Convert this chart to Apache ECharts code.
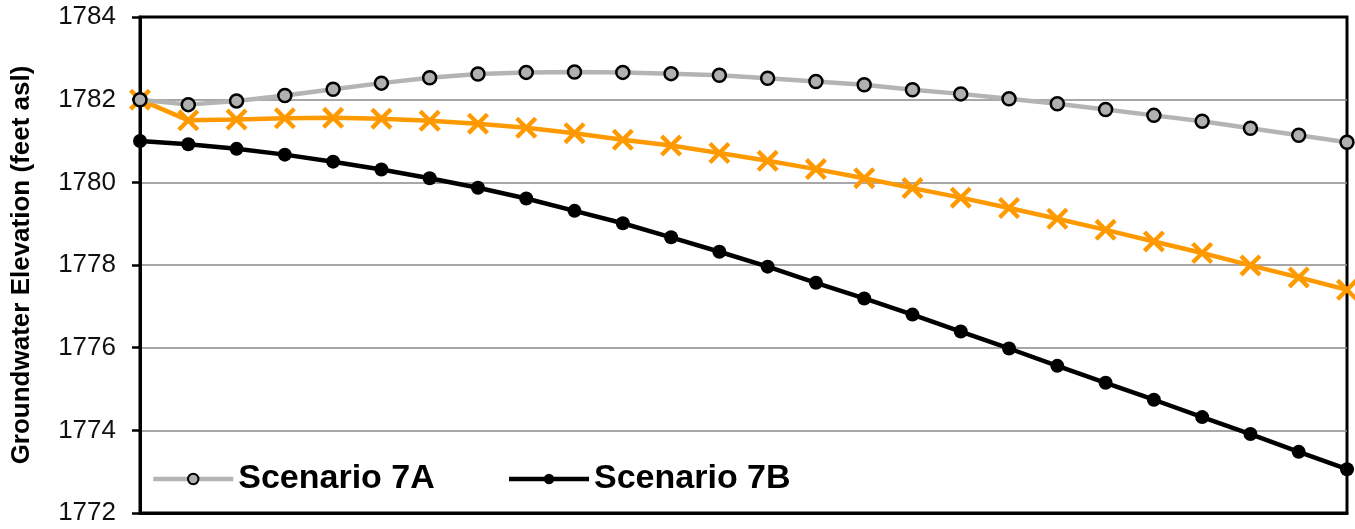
<!DOCTYPE html>
<html>
<head>
<meta charset="utf-8">
<title>Groundwater Elevation</title>
<script src="https://cdn.jsdelivr.net/npm/echarts@6/dist/echarts.min.js"></script>
<style>
  html, body { margin: 0; padding: 0; background: #fff; }
  #chart { width: 1355px; height: 529px; }
</style>
</head>
<body>
<div id="chart"></div>
<script>
// Time steps along the horizontal axis (labels are not shown)
const steps = Array.from({ length: 26 }, (_, i) => String(i));

// Groundwater elevation (feet asl) per scenario
const scenario7A = [1782.00, 1781.88, 1781.97, 1782.10, 1782.25, 1782.40, 1782.53, 1782.62, 1782.66,
  1782.67, 1782.66, 1782.63, 1782.59, 1782.52, 1782.44, 1782.36, 1782.24, 1782.14, 1782.02,
  1781.90, 1781.76, 1781.62, 1781.48, 1781.31, 1781.14, 1780.97];
const scenario7 = [1782.00, 1781.50, 1781.52, 1781.55, 1781.56, 1781.54, 1781.49, 1781.42, 1781.32,
  1781.19, 1781.03, 1780.89, 1780.71, 1780.52, 1780.32, 1780.10, 1779.86, 1779.63, 1779.38,
  1779.12, 1778.85, 1778.57, 1778.29, 1777.99, 1777.70, 1777.40];
const scenario7B = [1781.00, 1780.92, 1780.81, 1780.67, 1780.50, 1780.31, 1780.10, 1779.87, 1779.61,
  1779.31, 1779.01, 1778.67, 1778.32, 1777.96, 1777.57, 1777.19, 1776.80, 1776.39, 1775.98,
  1775.56, 1775.15, 1774.74, 1774.32, 1773.91, 1773.48, 1773.06];

const yMin = 1772, yMax = 1784, yStep = 2;

// X-shaped marker built from two diagonal bands
const crossSymbol = 'path://M0,14L14,0L100,86L86,100Z M86,0L100,14L14,100L0,86Z';

const FONT = "'Liberation Sans', Arial, sans-serif";

const chart = echarts.init(document.getElementById('chart'), null, { renderer: 'canvas' });
chart.setOption({
  animation: false,
  backgroundColor: '#fff',
  grid: {
    left: 140, right: 8, top: 17, bottom: 16,
    show: true, borderColor: '#000', borderWidth: 3, backgroundColor: 'transparent'
  },
  legend: {
    data: [
      { name: 'Scenario 7A', lineStyle: { width: 4.5, color: '#b4b4b4' },
        itemStyle: { color: '#b0b0b0', borderColor: '#000', borderWidth: 2 } },
      { name: 'Scenario 7B', lineStyle: { width: 4.5, color: '#000' },
        itemStyle: { color: '#000' } }
    ],
    left: 146, top: 457,
    itemWidth: 80, itemHeight: 13, itemGap: 72,
    textStyle: { fontFamily: FONT, fontSize: 34, fontWeight: 'bold', color: '#000' }
  },
  xAxis: {
    type: 'category',
    data: steps,
    boundaryGap: false,
    axisLine: { show: true, lineStyle: { color: '#000', width: 3 } },
    axisTick: { show: false },
    axisLabel: { show: false },
    splitLine: { show: false }
  },
  yAxis: {
    type: 'value',
    min: yMin, max: yMax, interval: yStep,
    name: 'Groundwater Elevation (feet asl)',
    nameLocation: 'middle',
    nameGap: 105,
    nameTextStyle: { fontFamily: FONT, fontSize: 26, fontWeight: 'bold', color: '#000' },
    axisLine: { show: true, lineStyle: { color: '#000', width: 3 } },
    axisTick: { show: true, inside: false, length: 8, lineStyle: { color: '#000', width: 2.5 } },
    axisLabel: {
      fontFamily: FONT, fontSize: 26, color: '#111', margin: 24,
      formatter: (v) => String(v)
    },
    splitLine: { show: true, showMinLine: false, showMaxLine: false,
      lineStyle: { color: '#8a8a8a', width: 1.5 } }
  },
  series: [
    {
      name: 'Scenario 7B',
      type: 'line',
      data: scenario7B,
      symbol: 'circle',
      symbolSize: 14,
      lineStyle: { color: '#000', width: 4.5 },
      itemStyle: { color: '#000', borderColor: '#000', borderWidth: 0 },
      z: 2
    },
    {
      name: 'Scenario 7',
      type: 'line',
      data: scenario7,
      symbol: crossSymbol,
      symbolSize: 22,
      lineStyle: { color: '#ff9900', width: 4.5 },
      itemStyle: { color: '#ff9900', borderWidth: 0 },
      z: 3
    },
    {
      name: 'Scenario 7A',
      type: 'line',
      data: scenario7A,
      symbol: 'circle',
      symbolSize: 13,
      lineStyle: { color: '#b4b4b4', width: 4.5 },
      itemStyle: { color: '#b0b0b0', borderColor: '#000', borderWidth: 2.5 },
      z: 4
    }
  ]
});
</script>
</body>
</html>
